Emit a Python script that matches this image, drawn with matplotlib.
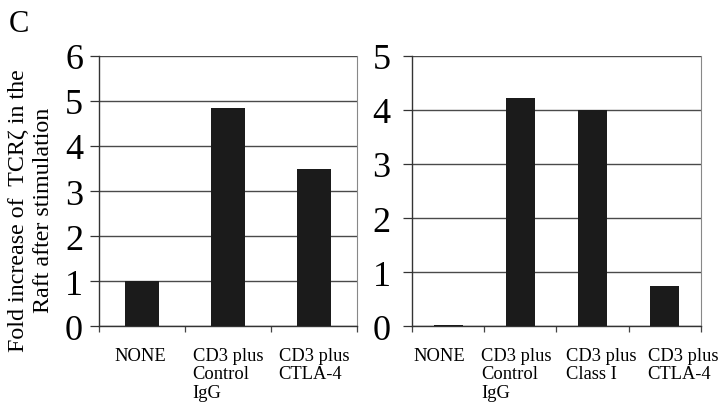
import numpy as np
from matplotlib import pyplot as plt
from matplotlib.transforms import ScaledTranslation

# values
left_labels = ["NONE", "CD3 plus\nControl\nIgG", "CD3 plus\nCTLA-4"]
left_values = [1.0, 4.84, 3.48]
right_labels = ["NONE", "CD3 plus\nControl\nIgG", "CD3 plus\nClass I", "CD3 plus\nCTLA-4"]
right_values = [0.03, 4.21, 4.0, 0.74]
left_ymax = 6
right_ymax = 5

serif = ['Liberation Serif', 'DejaVu Serif']
plt.rcParams['font.family'] = serif

fig = plt.figure(figsize=(7.2, 4.06), dpi=100)
ax1 = fig.add_axes([0.1375, 0.1938, 0.3583, 0.6665])
ax2 = fig.add_axes([0.5722, 0.1938, 0.4014, 0.6665])


def draw_panel(ax, labels, values, ymax, ypad, shifts):
    pos = np.arange(len(labels))
    ax.set_axisbelow(True)
    ax.bar(pos, values, width=0.4, color="#1b1b1b", zorder=3)
    ax.set_xlim(-0.5, len(labels) - 0.5)
    ax.set_ylim(0, ymax)
    ax.set_yticks(range(0, ymax + 1))
    ax.yaxis.grid(True, color="#4a4a4a", linewidth=1.0)
    ax.tick_params(axis='y', length=6.5, width=0.9, color="#333333",
                   labelsize=26, pad=ypad)
    ax.set_xticks(pos)
    ax.set_xticklabels(labels, fontsize=13.3, multialignment='left', linespacing=1.1)
    ax.set_xticks(np.arange(len(labels) + 1) - 0.5, minor=True)
    ax.tick_params(axis='x', which='major', length=0, pad=15)
    ax.tick_params(axis='x', which='minor', length=4, width=0.9, color="#444444")
    # labels in the original are spread a little wider than the categories
    for lab, dx in zip(ax.get_xticklabels(), shifts):
        lab.set_transform(lab.get_transform() + ScaledTranslation(dx / 100, 0, fig.dpi_scale_trans))
    for side in ['left', 'bottom']:
        ax.spines[side].set_color("#333333")
        ax.spines[side].set_linewidth(1.0)
    ax.spines['top'].set_visible(False)
    ax.spines['right'].set_color("#888888")
    ax.spines['right'].set_linewidth(0.8)


draw_panel(ax1, left_labels, left_values, left_ymax, 5, [-2, 0, 0])
draw_panel(ax2, right_labels, right_values, right_ymax, 9, [-9, -4, 9, 18])

fig.text(0.043, 0.482, "Fold increase of  TCR\u03b6 in the\nRaft after stimulation",
         rotation=90, ha='center', va='center', fontsize=17.3, linespacing=1.2)
fig.text(0.012, 0.94, "C", fontsize=22, ha='left', va='center')

fig.savefig("out.png", dpi=100)
